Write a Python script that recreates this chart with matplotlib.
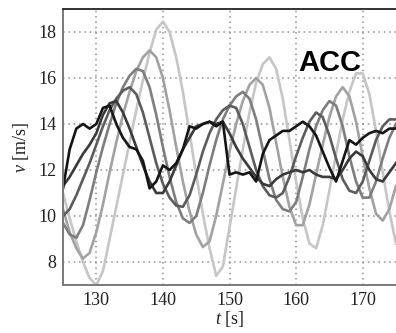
import matplotlib
matplotlib.use("Agg")
import matplotlib.pyplot as plt
import numpy as np

plt.rcParams['font.family'] = ['Liberation Serif', 'DejaVu Serif']
plt.rcParams['mathtext.fontset'] = 'custom'
plt.rcParams['mathtext.rm'] = 'Liberation Serif'
plt.rcParams['mathtext.it'] = 'Liberation Serif:italic'

# time axis [s], one sample per second
t = np.arange(125, 176)

# speeds [m/s], darkest (first vehicle) to lightest (last vehicle)
v1 = [11.2, 12.9, 13.8, 14.0, 13.8, 14.0, 14.7, 14.8, 14.0, 13.4,
      13.0, 12.9, 12.4, 11.2, 11.5, 12.2, 12.0, 12.3, 12.9, 13.9,
      13.8, 14.0, 14.1, 13.9, 14.1, 11.8, 11.9, 11.8, 11.9, 11.5,
      12.7, 13.3, 13.5, 13.7, 13.7, 13.9, 14.1, 13.9, 13.5, 12.8,
      12.1, 11.5, 12.4, 13.3, 13.1, 13.4, 13.6, 13.7, 13.6, 13.8, 13.8]
v2 = [11.3, 11.7, 12.2, 12.7, 13.1, 13.6, 14.4, 14.9, 15.0, 14.5,
      13.8, 13.0, 12.2, 11.5, 11.0, 11.0, 11.5, 12.2, 12.9, 13.4,
      13.9, 14.0, 14.1, 14.0, 14.1, 13.6, 13.0, 12.5, 12.1, 11.7,
      11.4, 11.3, 11.6, 11.8, 11.9, 12.0, 11.9, 12.0, 11.8, 11.7,
      11.7, 11.6, 12.0, 12.5, 12.8, 12.6, 12.0, 11.6, 11.5, 11.9, 12.3]
v3 = [10.0, 10.3, 10.9, 11.6, 12.3, 13.1, 13.9, 14.6, 15.1, 15.45,
      15.6, 15.3, 14.5, 13.4, 12.3, 11.4, 10.8, 10.45, 10.4, 10.9,
      11.8, 12.8, 13.6, 14.2, 14.6, 14.8, 14.7, 14.0, 13.0, 12.0,
      11.3, 10.9, 10.8, 11.0, 11.7, 12.6, 13.4, 14.1, 14.5, 14.3,
      13.5, 12.5, 11.6, 11.1, 11.0, 11.5, 12.4, 13.3, 13.9, 14.2, 14.2]
v4 = [9.7, 9.2, 9.05, 9.6, 10.7, 11.9, 13.0, 14.0, 14.9, 15.6,
      16.1, 16.4, 16.3, 15.6, 14.4, 13.0, 11.7, 10.6, 9.9, 9.7,
      10.0, 11.0, 12.2, 13.3, 14.2, 14.8, 15.2, 15.4, 15.1, 14.2,
      12.9, 11.6, 10.7, 10.3, 10.2, 10.6, 11.7, 12.9, 13.9, 14.6,
      15.0, 14.8, 13.9, 12.6, 11.5, 10.8, 10.8, 11.5, 12.5, 13.4, 14.0]
v5 = [10.3, 9.3, 8.6, 8.15, 8.4, 9.3, 10.5, 11.9, 13.2, 14.4,
      15.4, 16.3, 16.9, 17.2, 16.9, 16.0, 14.6, 13.0, 11.5, 10.2,
      9.2, 8.65, 8.9, 10.0, 11.4, 12.8, 14.0, 15.0, 15.7, 16.0,
      15.7, 14.7, 13.2, 11.7, 10.4, 9.6, 9.6, 10.5, 11.8, 13.1,
      14.3, 15.2, 15.6, 15.2, 14.1, 12.6, 11.2, 10.1, 9.8, 10.3, 11.3]
v6 = [11.0, 9.9, 8.9, 8.0, 7.3, 7.0, 7.6, 9.0, 10.4, 11.8,
      13.2, 14.6, 15.9, 17.1, 18.1, 18.45, 18.0, 16.9, 15.4, 13.6,
      11.8, 10.1, 8.6, 7.4, 7.8, 9.5, 11.2, 12.9, 14.5, 15.8,
      16.6, 16.9, 16.4, 15.1, 13.3, 11.5, 9.9, 8.8, 8.6, 9.6,
      11.1, 12.7, 14.2, 15.4, 16.2, 16.2, 15.3, 13.7, 11.9, 10.2, 8.8]

speeds = [v1, v2, v3, v4, v5, v6]
shades = ['#151515', '#3a3a3a', '#5c5c5c', '#7e7e7e', '#a2a2a2', '#c6c6c6']

fig = plt.figure(figsize=(3.96, 3.33), dpi=100)
ax = fig.add_axes([63 / 396, 48 / 333, 333 / 396, 276 / 333])

for v, c in reversed(list(zip(speeds, shades))):
    ax.plot(t, v, color=c, lw=1.9, solid_joinstyle='round')

ax.set_xlim(125, 175)
ax.set_ylim(7, 19)
ax.set_xticks([130, 140, 150, 160, 170])
ax.set_yticks([8, 10, 12, 14, 16, 18])
ax.grid(True, color='#909090', linestyle=(0, (1, 2.5)), linewidth=1.1)
ax.tick_params(labelsize=13, length=0, pad=5, colors='#222')

for s in ['left', 'bottom']:
    ax.spines[s].set_color('#7a7a7a')
    ax.spines[s].set_linewidth(1.4)
ax.spines['top'].set_color('#333')
ax.spines['top'].set_linewidth(1.4)
ax.spines['right'].set_visible(False)

ax.set_xlabel('$t$ [s]', fontsize=13, labelpad=0, color='#222')
ax.set_ylabel('$v$ [m/s]', fontsize=13, labelpad=5, color='#222')

ax.text(160.3, 16.3, 'ACC', family='Liberation Sans', fontweight='bold',
        fontsize=21, color='black', ha='left', va='baseline')

fig.savefig('out.png', dpi=100)
